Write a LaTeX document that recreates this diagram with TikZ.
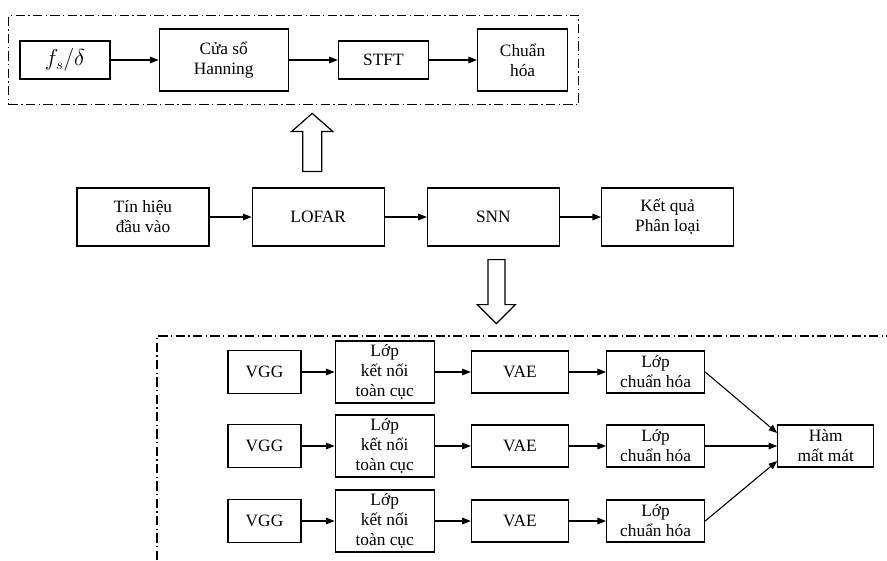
\documentclass[tikz,border=0pt]{standalone}
\usepackage{fontspec}
\setmainfont{Liberation Serif}
\usepackage{tikz}
\usetikzlibrary{arrows.meta, positioning, fit, calc}

\begin{document}
\begin{tikzpicture}[
  x=0.75pt, y=-0.75pt,
  font=\fontsize{13pt}{15pt}\selectfont,
  box/.style={rectangle, draw=black, line width=0.9pt, fill=white,
    minimum width=#1, align=center, inner sep=1pt},
  box/.default=67.5pt,
  arr/.style={-{Triangle[length=6.5pt, width=5pt]}, draw=black, line width=0.8pt},
  dashdot/.style={draw=black, line width=0.9pt,
    dash pattern=on 7pt off 2.5pt on 1pt off 2.5pt},
  hollow/.style={draw=black, line width=0.9pt, fill=white}
]
\useasboundingbox (0,0) rectangle (887,560);

% LOFAR steps
\node[box, minimum height=28.5pt, font=\fontsize{16pt}{18pt}\selectfont] (fs) at (65,60) {$f_s/\delta$};
\node[box=96.75pt, minimum height=46.5pt, right=36pt of fs] (hann) {Cửa sổ\\Hanning};
\node[box, minimum height=28.5pt, right=36.75pt of hann] (stft) {STFT};
\node[box, minimum height=46.5pt, right=36pt of stft] (norm) {Chuẩn\\hóa};
\node[dashdot, fit=(fs)(hann)(stft)(norm), inner xsep=8pt, inner ysep=9.75pt] (lofarbox) {};
\draw[arr] (fs)--(hann); \draw[arr] (hann)--(stft); \draw[arr] (stft)--(norm);

% main chain
\node[box=99pt, minimum height=43.5pt] (sig) at (143,217) {Tín hiệu\\đầu vào};
\node[box=99pt, minimum height=43.5pt, right=31.5pt of sig] (lofar) {LOFAR};
\node[box=99pt, minimum height=43.5pt, right=31.5pt of lofar] (snn) {SNN};
\node[box=99pt, minimum height=43.5pt, right=30.75pt of snn] (res) {Kết quả\\Phân loại};
\draw[arr] (sig)--(lofar); \draw[arr] (lofar)--(snn); \draw[arr] (snn)--(res);

% hollow arrows
\coordinate (upbase) at ([xshift=-4.5pt, yshift=12pt]lofar.north);
\draw[hollow] (upbase) ++(-9.5,0) -- ++(0,-40) -- ++(-11,0) -- ++(20.5,-18)
  -- ++(20.5,18) -- ++(-11,0) -- ++(0,40) -- cycle;
\coordinate (dnbase) at ([xshift=2.25pt, yshift=-9.75pt]snn.south);
\draw[hollow] (dnbase) ++(-8.5,0) -- ++(0,45) -- ++(-10.5,0) -- ++(19,19)
  -- ++(19,-19) -- ++(-10.5,0) -- ++(0,-45) -- cycle;

% SNN detail
\draw[dashdot] (157,560) -- (157,336) -- (887,336);
\node[box=54.75pt, minimum height=32.25pt] (vgg1) at (264.5,372) {VGG};
\node[box=74.25pt, minimum height=46.5pt, right=24.75pt of vgg1] (fc1) {Lớp\\kết nối\\toàn cục};
\node[box=72.75pt, minimum height=31.5pt, right=27pt of fc1] (vae1) {VAE};
\node[box=73.5pt, minimum height=31.5pt, right=27.75pt of vae1] (ln1) {Lớp\\chuẩn hóa};
\node[box=54.75pt, minimum height=32.25pt] (vgg2) at (264.5,446) {VGG};
\node[box=74.25pt, minimum height=46.5pt, right=24.75pt of vgg2] (fc2) {Lớp\\kết nối\\toàn cục};
\node[box=72.75pt, minimum height=31.5pt, right=27pt of fc2] (vae2) {VAE};
\node[box=73.5pt, minimum height=31.5pt, right=27.75pt of vae2] (ln2) {Lớp\\chuẩn hóa};
\node[box=54.75pt, minimum height=32.25pt] (vgg3) at (264.5,521) {VGG};
\node[box=74.25pt, minimum height=46.5pt, right=24.75pt of vgg3] (fc3) {Lớp\\kết nối\\toàn cục};
\node[box=72.75pt, minimum height=31.5pt, right=27pt of fc3] (vae3) {VAE};
\node[box=73.5pt, minimum height=31.5pt, right=27.75pt of vae3] (ln3) {Lớp\\chuẩn hóa};
\node[box=72pt, minimum height=31.5pt, right=54pt of ln2] (loss) {Hàm\\mất mát};
\draw[arr] (vgg1)--(fc1); \draw[arr] (fc1)--(vae1); \draw[arr] (vae1)--(ln1);
\draw[arr] (vgg2)--(fc2); \draw[arr] (fc2)--(vae2); \draw[arr] (vae2)--(ln2);
\draw[arr] (vgg3)--(fc3); \draw[arr] (fc3)--(vae3); \draw[arr] (vae3)--(ln3);
\draw[arr] (ln1.east)--([yshift=9.75pt]loss.west);
\draw[arr] (ln2)--(loss);
\draw[arr] (ln3.east)--([yshift=-11.25pt]loss.west);
\end{tikzpicture}
\end{document}
